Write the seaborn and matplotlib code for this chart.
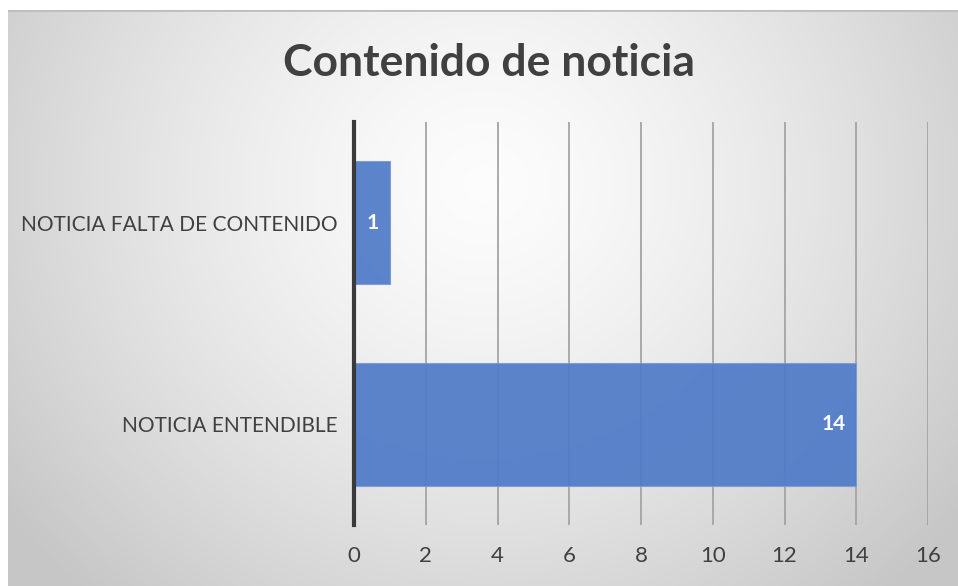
import numpy as np
import pandas as pd
import matplotlib
matplotlib.use("Agg")
import matplotlib.pyplot as plt
import seaborn as sns

categories = ["NOTICIA FALTA DE CONTENIDO", "NOTICIA ENTENDIBLE"]
values = [1, 14]
xticks = [0, 2, 4, 6, 8, 10, 12, 14, 16]
title = "Contenido de noticia"

sns.set_theme(style="white")
plt.rcParams['font.family'] = ['Lato', 'DejaVu Sans']

W, H = 958, 586
fig = plt.figure(figsize=(W / 100, H / 100), dpi=100)
fig.patch.set_facecolor("white")

# gradient background panel
bg = fig.add_axes([8 / W, 0, (W - 8) / W, (H - 10) / H], zorder=0)
ny, nx = 300, 500
yy, xx = np.mgrid[0:ny, 0:nx]
cx, cy = nx * 0.50, ny * 0.30
d = np.sqrt(((xx - cx) / (nx * 0.62)) ** 2 + ((yy - cy) / (ny * 0.95)) ** 2)
d = np.clip(d, 0, 1)
g = 0.99 - 0.21 * d ** 1.4
bg.imshow(np.dstack([g, g, g]), aspect="auto", extent=[0, 1, 0, 1], origin="upper")
bg.axhline(1, color="#bdbdbd", lw=2)
bg.set_axis_off()

df = pd.DataFrame({"cat": categories, "val": values})

ax = fig.add_axes([354 / W, 1 - 525 / H, (928 - 354) / W, (525 - 122) / H], zorder=1)
ax.set_facecolor("none")
sns.barplot(data=df, x="val", y="cat", orient="h", color="#4f7bc8", width=0.61,
            saturation=1, alpha=0.93, edgecolor="#7a9bd6", linewidth=0.8, ax=ax, zorder=2)

ax.set_xlim(0, 16)
ax.set_ylim(1.5, -0.5)
ax.set_xticks(xticks)
ax.set_xticklabels([str(t) for t in xticks])
for t in xticks[1:]:
    ax.axvline(t, color="#a4a4a4", lw=1.3, zorder=1)
for s in ["top", "right", "bottom"]:
    ax.spines[s].set_visible(False)
ax.spines["left"].set_color("#3a3a3a")
ax.spines["left"].set_linewidth(3)
ax.tick_params(axis="x", length=0, pad=15, labelsize=16, labelcolor="#404040")
ax.tick_params(axis="y", length=0, pad=12, labelsize=15, labelcolor="#404040")
ax.set_xlabel("")
ax.set_ylabel("")

for i, v in enumerate(values):
    ax.text(v - 0.3, i, str(v), ha="right", va="center", color="white",
            fontsize=15, fontweight="bold", zorder=3)

fig.text(489 / W, 1 - 63 / H, title, ha="center", va="center",
         fontsize=32, fontweight="bold", color="#404040")

fig.savefig("out.png", dpi=100)
